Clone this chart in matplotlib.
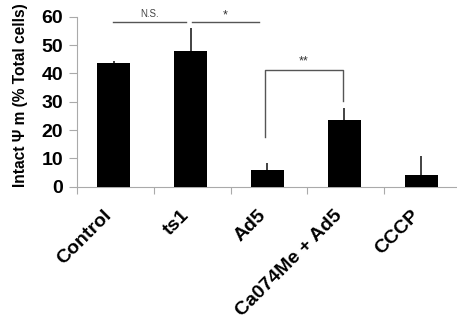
import matplotlib
matplotlib.use("Agg")
import matplotlib.pyplot as plt
import matplotlib.transforms as mtransforms
import numpy as np

categories = ["Control", "ts1", "Ad5", "Ca074Me + Ad5", "CCCP"]
values = [43.8, 47.9, 6.0, 23.5, 4.1]
errors = [0.6, 8.0, 2.2, 4.4, 6.7]
yticks = [0, 10, 20, 30, 40, 50, 60]

plt.rcParams['font.family'] = ['Liberation Sans', 'DejaVu Sans']

fig = plt.figure(figsize=(4.57, 3.24), dpi=100)
W, H = 457, 324
left, right = 77 / W, 461 / W
bottom, top = 1 - 186.7 / H, 1 - 16.7 / H
ax = fig.add_axes([left, bottom, right - left, top - bottom])

x = np.arange(len(categories))
ax.bar(x - 0.02, values, width=0.43, color='black', zorder=3)
ax.errorbar(x - 0.02, values, yerr=[np.zeros(len(values)), errors], fmt='none',
            ecolor='#222222', elinewidth=1.2, capsize=0, zorder=2)

ax.set_xlim(-0.5, 4.5)
ax.set_ylim(0, 60)
ax.set_yticks(yticks)
ax.set_yticklabels([str(t) for t in yticks], fontsize=14, fontweight='bold')

# category labels drawn as rotated text anchored at top-right corner
ax.set_xticks(x)
ax.set_xticklabels([])
offset = mtransforms.ScaledTranslation(-12 / 100, -20 / 100, fig.dpi_scale_trans)
for xi, name in zip(x, categories):
    ax.text(xi, 0, name, transform=ax.get_xaxis_transform() + offset,
            rotation=45, rotation_mode='anchor', ha='right', va='top',
            fontsize=14, fontweight='bold', clip_on=False)

ax.set_xticks(np.arange(-0.5, 5.0, 1.0), minor=True)
ax.tick_params(axis='x', which='major', length=0)
ax.tick_params(axis='x', which='minor', length=5, color='#aaaaaa', width=0.8, direction='out')
ax.tick_params(axis='y', length=5.5, color='#aaaaaa', width=0.8, pad=4.5)

for s in ['top', 'right']:
    ax.spines[s].set_visible(False)
for s in ['left', 'bottom']:
    ax.spines[s].set_color('#aaaaaa')
    ax.spines[s].set_linewidth(0.8)

ax.set_ylabel('Intact \u03a8 m (% Total cells)', fontsize=11.2, fontweight='bold')
ax.yaxis.set_label_coords(-0.127, 0.54)

lc = '#555555'
# N.S. line
ax.plot([-0.03, 0.92], [58, 58], color=lc, lw=1, clip_on=False)
ax.text(0.45, 59.3, 'N.S.', fontsize=7, ha='center', va='bottom', color='#444444')
# * line
ax.plot([1.0, 1.87], [58, 58], color=lc, lw=1, clip_on=False)
ax.text(1.43, 58.3, '*', fontsize=9, ha='center', va='bottom', color='#333333')
# ** bracket
ax.plot([1.95, 1.95, 2.97, 2.97], [17.5, 41.2, 41.2, 30.4], color=lc, lw=1)
ax.text(2.45, 42.0, '**', fontsize=9, ha='center', va='bottom', color='#333333')

fig.savefig('out.png', dpi=100)
